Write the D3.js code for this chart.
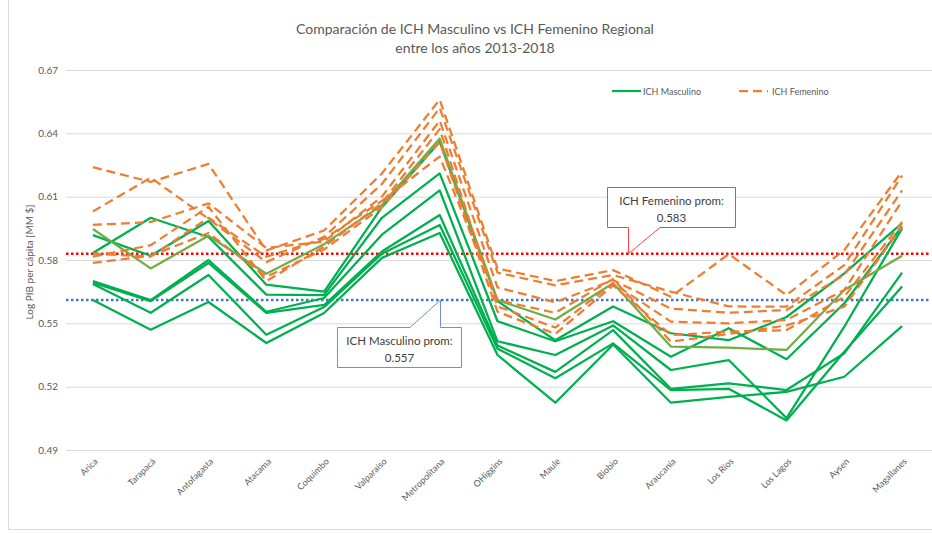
<!DOCTYPE html>
<html><head><meta charset="utf-8">
<script src="https://cdn.jsdelivr.net/npm/d3@7/dist/d3.min.js"></script>
<style>html,body{margin:0;padding:0;background:#fff;}svg{display:block;}</style>
</head><body>
<svg id="chart" width="932" height="533"></svg>
<script>
const categories = ["Arica","Tarapacá","Antofagasta","Atacama","Coquimbo","Valparaíso","Metropolitana","OHiggins","Maule","Biobio","Araucanía","Los Ríos","Los Lagos","Aysen","Magallanes"];
const yTicks = [0.49,0.52,0.55,0.58,0.61,0.64,0.67];

// ICH Masculino series (green) — one line per year
const masc1 = [0.5918,0.582,0.5985,0.5683,0.565,0.605,0.636,0.5605,0.542,0.558,0.5453,0.542,0.553,0.5737,0.5975];
const masc2 = [0.5833,0.600,0.5909,0.5636,0.5634,0.600,0.621,0.551,0.5415,0.551,0.5342,0.5477,0.533,0.5595,0.596];
const masc3 = [0.570,0.561,0.580,0.5555,0.562,0.592,0.613,0.5415,0.535,0.549,0.5279,0.5326,0.5051,0.5484,0.595];
const masc4 = [0.5692,0.5605,0.5786,0.5549,0.5587,0.584,0.6013,0.5395,0.527,0.5468,0.519,0.5216,0.5184,0.5358,0.574];
const masc5 = [0.5686,0.555,0.5729,0.5446,0.5577,0.583,0.5966,0.538,0.524,0.5405,0.5184,0.519,0.504,0.5365,0.5674];
const masc6 = [0.561,0.547,0.5601,0.5407,0.5549,0.581,0.5928,0.535,0.5124,0.540,0.5124,0.5152,0.5175,0.5247,0.5487];
const masc7 = [0.5947,0.576,0.5915,0.5735,0.5875,0.606,0.6375,0.561,0.5518,0.569,0.539,0.5385,0.5374,0.5658,0.582];

// ICH Femenino series (orange dashed)
const fem1 = [0.624,0.617,0.6255,0.5845,0.594,0.621,0.656,0.576,0.570,0.5752,0.5626,0.5828,0.5634,0.5847,0.622];
const fem2 = [0.603,0.619,0.5995,0.579,0.591,0.616,0.652,0.574,0.568,0.5729,0.565,0.558,0.5579,0.5776,0.620];
const fem3 = [0.5966,0.598,0.6068,0.5857,0.5887,0.610,0.646,0.567,0.560,0.5705,0.557,0.555,0.5563,0.573,0.613];
const fem4 = [0.5816,0.587,0.6052,0.570,0.5863,0.607,0.642,0.558,0.548,0.569,0.5508,0.550,0.5516,0.5658,0.608];
const fem5 = [0.5786,0.582,0.5928,0.572,0.585,0.605,0.636,0.5555,0.545,0.568,0.5445,0.546,0.5468,0.5626,0.598];
const fem6 = [0.583,0.5816,0.600,0.5816,0.590,0.608,0.629,0.561,0.555,0.571,0.5413,0.545,0.549,0.5579,0.596];

const mascSeries = [masc1,masc2,masc3,masc4,masc5,masc6];
const mascAlt = [masc7];
const femSeries = [fem1,fem2,fem3,fem4,fem5,fem6];

const femAvgValue = 0.583;
const mascAvgValue = 0.561;
const femAvgLabel = ["ICH Femenino prom:","0.583"];
const mascAvgLabel = ["ICH Masculino prom:","0.557"];

const title = ["Comparación de ICH Masculino vs ICH Femenino Regional","entre los años 2013-2018"];
const yLabel = "Log PIB per cápita [MM $]";
const legendNames = ["ICH Masculino","ICH Femenino"];

const svg = d3.select("#chart");
const font = "Lato, 'Open Sans', sans-serif";
const plot = {left:64, right:931, top:70, bottom:450};

const x = d3.scalePoint().domain(categories).range([plot.left, plot.right]).padding(0.5);
const y = d3.scaleLinear().domain([0.49,0.67]).range([plot.bottom, plot.top]);

// outer border
svg.append("rect").attr("x",8.5).attr("y",-1).attr("width",940).attr("height",530.5)
  .attr("fill","none").attr("stroke","#d9d9d9").attr("stroke-width",1);

// title
svg.append("text").attr("x",475).attr("y",34).attr("text-anchor","middle")
  .attr("font-family",font).attr("font-size",14).attr("fill","#595959").text(title[0]);
svg.append("text").attr("x",475).attr("y",53).attr("text-anchor","middle")
  .attr("font-family",font).attr("font-size",14).attr("fill","#595959").text(title[1]);

// gridlines + y axis
const yAxis = d3.axisLeft(y).tickValues(yTicks).tickFormat(d3.format(".2f"))
  .tickSize(-(plot.right-plot.left+2)).tickPadding(8);
const gy = svg.append("g").attr("transform",`translate(${plot.left+2},0)`).call(yAxis);
gy.select(".domain").remove();
gy.selectAll(".tick line").attr("stroke","#d9d9d9").attr("stroke-width",1);
gy.selectAll(".tick text").attr("font-family",font).attr("font-size",10).attr("fill","#595959");

// y label
svg.append("text").attr("transform",`translate(33,${(plot.top+plot.bottom)/2+2}) rotate(-90)`)
  .attr("text-anchor","middle").attr("font-family",font).attr("font-size",10).attr("fill","#595959")
  .text(yLabel);

// x axis
const xAxis = d3.axisBottom(x).tickSize(0).tickPadding(0);
const gx = svg.append("g").attr("transform",`translate(0,${plot.bottom})`).call(xAxis);
gx.select(".domain").remove();
gx.selectAll(".tick text")
  .attr("font-family",font).attr("font-size",9).attr("fill","#595959")
  .attr("text-anchor","end").attr("dy",0).attr("y",0)
  .attr("transform","translate(5,12) rotate(-45)");

// lines
const line = d3.line().x((d,i)=>x(categories[i])).y(d=>y(d));

// average dotted lines
svg.append("line").attr("x1",plot.left+2).attr("x2",plot.right).attr("y1",y(femAvgValue)).attr("y2",y(femAvgValue))
  .attr("stroke","#ff0000").attr("stroke-width",2.5).attr("stroke-dasharray","2.5,2.5");
svg.append("line").attr("x1",plot.left+2).attr("x2",plot.right).attr("y1",y(mascAvgValue)).attr("y2",y(mascAvgValue))
  .attr("stroke","#4472c4").attr("stroke-width",2.5).attr("stroke-dasharray","2.5,2.5");

svg.append("g").selectAll("path").data(mascSeries).join("path")
  .attr("d",line).attr("fill","none").attr("stroke","#00b050").attr("stroke-width",2.25).attr("stroke-linejoin","round");
svg.append("g").selectAll("path").data(mascAlt).join("path")
  .attr("d",line).attr("fill","none").attr("stroke","#70ad47").attr("stroke-width",2.25).attr("stroke-linejoin","round");
svg.append("g").selectAll("path").data(femSeries).join("path")
  .attr("d",line).attr("fill","none").attr("stroke","#ed7d31").attr("stroke-width",2.25)
  .attr("stroke-dasharray","9,5").attr("stroke-linejoin","round");

// legend
const lg = svg.append("g");
lg.append("line").attr("x1",612).attr("x2",641).attr("y1",91).attr("y2",91).attr("stroke","#00b050").attr("stroke-width",2.25);
lg.append("text").attr("x",643).attr("y",94.5).attr("font-family",font).attr("font-size",9).attr("fill","#595959").text(legendNames[0]);
lg.append("line").attr("x1",739).attr("x2",768).attr("y1",91).attr("y2",91).attr("stroke","#ed7d31").attr("stroke-width",2.25).attr("stroke-dasharray","9,5");
lg.append("text").attr("x",772).attr("y",94.5).attr("font-family",font).attr("font-size",9).attr("fill","#595959").text(legendNames[1]);

// callouts
function callout(bx, by, bw, bh, wedgeX1, wedgeX2, tipX, tipY, color, lines, top){
  const g = svg.append("g");
  const edgeY = top ? by : by+bh;
  let p;
  if(top){
    p = `M${bx},${by} L${wedgeX1},${by} L${tipX},${tipY} L${wedgeX2},${by} L${bx+bw},${by} L${bx+bw},${by+bh} L${bx},${by+bh} Z`;
  } else {
    p = `M${bx},${by} L${bx+bw},${by} L${bx+bw},${by+bh} L${wedgeX2},${by+bh} L${tipX},${tipY} L${wedgeX1},${by+bh} L${bx},${by+bh} Z`;
  }
  g.append("path").attr("d",p).attr("fill","#fff").attr("stroke",color).attr("stroke-width",1);
  lines.forEach((t,i)=>{
    g.append("text").attr("x",bx+bw/2).attr("y",by+17+i*17.5).attr("text-anchor","middle")
      .attr("font-family",font).attr("font-size",11.5).attr("fill","#404040").text(t);
  });
}
callout(607.5, 187.5, 128, 40, 628.5, 660, 628.5, y(femAvgValue), "#ff4040", femAvgLabel, false);
callout(337.5, 327.5, 124, 40, 410, 440.5, 440.5, y(mascAvgValue), "#6f8fd0", mascAvgLabel, true);
</script>
</body></html>
